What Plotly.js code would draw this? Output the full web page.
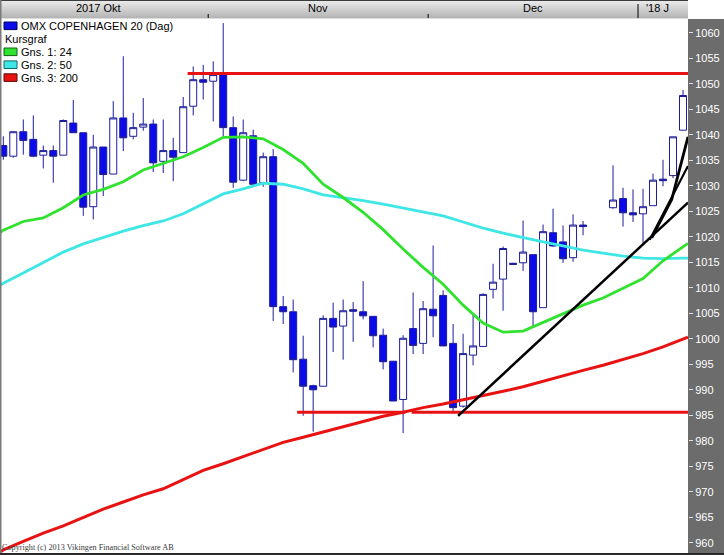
<!DOCTYPE html>
<html>
<head>
<meta charset="utf-8">
<script src="https://cdn.plot.ly/plotly-3.0.1.min.js"></script>
<style>html,body{margin:0;padding:0;background:#fff;overflow:hidden}#chart{width:724px;height:555px}</style>
</head>
<body>
<div id="chart"></div>
<script>
// ---- data (trading-day index; Christmas holidays 59,60 have no candle) ----
const dayIndex = [0,1,2,3,4,5,6,7,8,9,10,11,12,13,14,15,16,17,18,19,20,21,22,23,24,25,26,27,28,29,30,31,32,33,34,35,36,37,38,39,40,41,42,43,44,45,46,47,48,49,50,51,52,53,54,55,56,57,58,61,62,63,64,65,66,67,68];
const openP = [1037.9,1035.8,1040.6,1039.1,1036.0,1036.9,1036.0,1042.3,1040.4,1025.9,1037.6,1032.3,1043.3,1039.7,1041.5,1042.1,1034.8,1036.9,1036.5,1045.6,1050.8,1050.5,1051.8,1041.4,1031.1,1039.8,1030.6,1035.7,1006.3,1005.3,996.0,990.8,990.7,1004.0,1002.5,1005.7,1005.3,1004.4,1000.7,995.6,988.1,1002.0,999.1,1005.8,1008.5,999.1,986.8,996.8,998.5,1009.7,1011.7,1014.8,1014.9,1016.5,1006.1,1020.8,1019.0,1015.9,1022.3,1025.7,1027.5,1024.7,1024.5,1026.1,1031.3,1032.0,1040.9];
const highP = [1039.7,1040.7,1043.0,1043.8,1037.9,1037.9,1043.0,1046.8,1040.4,1040.0,1037.6,1046.6,1055.4,1044.3,1047.2,1043.0,1043.0,1039.4,1047.4,1053.4,1053.7,1054.4,1061.9,1043.6,1043.0,1041.0,1036.5,1037.2,1008.4,1007.7,1000.6,991.0,1004.6,1007.1,1007.7,1007.2,1011.3,1004.4,1002.0,995.6,1000.7,1009.1,1007.4,1018.3,1009.5,1002.9,1001.0,1005.0,1008.9,1014.7,1018.1,1014.9,1023.2,1016.5,1022.4,1025.5,1022.2,1024.4,1023.1,1034.0,1029.6,1029.3,1029.4,1032.4,1035.1,1039.6,1048.8];
const lowP = [1035.1,1035.5,1036.1,1035.6,1033.4,1030.6,1036.0,1040.4,1024.1,1023.4,1028.0,1032.3,1036.8,1039.1,1040.8,1032.7,1032.5,1030.9,1036.5,1043.8,1046.9,1042.6,1039.7,1029.6,1030.9,1030.1,1029.8,1003.5,1002.9,993.4,984.9,981.8,990.7,997.4,995.9,999.4,1003.8,998.3,994.0,987.8,981.5,997.0,997.0,1000.3,998.6,985.6,986.5,994.8,998.5,1007.9,1005.5,1014.5,1013.3,1002.3,1006.1,1018.0,1014.9,1015.1,1020.3,1025.5,1022.0,1022.9,1018.8,1026.1,1029.9,1031.5,1040.9];
const closeP = [1035.8,1040.6,1038.9,1035.8,1036.9,1035.8,1042.8,1040.4,1025.8,1037.6,1032.2,1043.3,1039.4,1041.4,1042.1,1034.5,1036.9,1035.6,1045.5,1050.8,1050.3,1051.8,1041.4,1030.7,1040.4,1030.3,1035.7,1006.3,1005.3,995.9,990.7,990.0,1004.0,1002.3,1005.5,1005.4,1004.5,1000.6,995.5,987.8,1000.1,998.7,1005.9,1004.5,998.6,986.5,997.1,998.6,1008.7,1011.1,1017.7,1014.6,1017.0,1005.3,1021.0,1018.2,1015.7,1022.3,1022.0,1027.2,1024.7,1024.3,1025.9,1031.1,1031.0,1039.6,1047.7];

// moving averages (edge, every 2nd day, edge)
const maIdx = [-0.33,0,2,4,6,8,10,12,14,16,18,20,22,24,26,28,30,32,34,36,38,40,42,44,46,48,50,52,54,56,58,60,62,64,66,68,68.5];
const ma24 = [1020.8,1021.3,1023.0,1023.7,1025.7,1028.2,1029.3,1030.8,1033.1,1034.4,1035.7,1037.5,1039.5,1039.6,1039.2,1037.1,1034.4,1030.3,1027.7,1024.8,1021.4,1017.6,1014.0,1010.7,1006.6,1003.1,1001.3,1001.5,1003.2,1005.0,1006.6,1008.0,1009.9,1011.8,1015.3,1018.0,1018.7];
const ma50 = [1010.5,1010.9,1012.9,1015.0,1017.0,1018.6,1019.9,1021.1,1022.2,1023.1,1024.5,1026.4,1028.4,1029.4,1030.5,1030.3,1029.4,1028.2,1027.7,1027.1,1026.4,1025.6,1024.8,1024.1,1022.9,1021.7,1020.7,1019.8,1019.0,1018.2,1017.4,1016.8,1016.2,1015.8,1015.7,1015.8,1015.8];
const ma200 = [958.2,958.6,960.3,961.9,963.3,965.0,966.6,968.0,969.4,970.6,972.4,974.2,975.5,976.9,978.3,979.7,980.7,981.7,982.7,983.8,984.8,985.6,986.5,987.2,988.0,988.8,989.7,990.6,991.7,992.7,993.8,994.8,995.9,997.1,998.4,999.9,1000.3];

// drawn horizontal levels and trend lines (day index, price)
const resistX = [18.44, 68.5], resistY = [1052.0, 1052.0];
const support1X = [29.4, 40.2], support2X = [40.85, 68.5], supportY = [985.6, 985.6];
const trendAX = [45.5, 68.5], trendAY = [984.9, 1026.7];
const trendBX = [64.67, 68.5], trendBY = [1019.4, 1033.9];
const trendCX = [64.87, 66.87, 68.5], trendCY = [1019.8, 1027.3, 1039.6];

const yTicks = [960,965,970,975,980,985,990,995,1000,1005,1010,1015,1020,1025,1030,1035,1040,1045,1050,1055,1060];
const monthLabels = ["2017 Okt","Nov","Dec","'18 J"];
const monthPos = [9.57, 31.5, 53, 65.4];
const monthBreaks = [20.5, 42.5, 63.5];
const legendNames = ["OMX COPENHAGEN 20 (Dag)","Kursgraf","Gns. 1: 24","Gns. 2: 50","Gns. 3: 200"];

// ---- geometry helpers (pixels -> paper) ----
const W = 724, H = 555, mL = 0, mR = 36, mT = 19, mB = 2;
const pw = W - mL - mR, ph = H - mT - mB;
const px = x => (x - mL) / pw;
const py = y => (H - mB - y) / ph;

const BLUE_LINE = '#1c1c9c', BLUE_FILL = '#0b0bea';
const GREEN = '#2ee22e', CYAN = '#3ee6e6', RED = '#e81212';

const traces = [
  {type:'candlestick', x:dayIndex, open:openP, high:highP, low:lowP, close:closeP,
   increasing:{line:{color:BLUE_LINE,width:1}, fillcolor:'#ffffff'},
   decreasing:{line:{color:BLUE_LINE,width:1}, fillcolor:BLUE_FILL},
   whiskerwidth:0, hoverinfo:'skip', name:legendNames[0]},
  {type:'scatter', mode:'lines', x:maIdx, y:ma50, line:{color:CYAN,width:2.8}, name:legendNames[3], hoverinfo:'skip'},
  {type:'scatter', mode:'lines', x:maIdx, y:ma24, line:{color:GREEN,width:2.8}, name:legendNames[2], hoverinfo:'skip'},
  {type:'scatter', mode:'lines', x:maIdx, y:ma200, line:{color:RED,width:3}, name:legendNames[4], hoverinfo:'skip'},
  {type:'scatter', mode:'lines', x:resistX, y:resistY, line:{color:RED,width:3}, hoverinfo:'skip'},
  {type:'scatter', mode:'lines', x:support1X, y:supportY, line:{color:RED,width:3}, hoverinfo:'skip'},
  {type:'scatter', mode:'lines', x:support2X, y:supportY, line:{color:RED,width:3}, hoverinfo:'skip'},
  {type:'scatter', mode:'lines', x:trendAX, y:trendAY, line:{color:'#000',width:2.5}, hoverinfo:'skip'},
  {type:'scatter', mode:'lines', x:trendBX, y:trendBY, line:{color:'#000',width:2.2}, hoverinfo:'skip'},
  {type:'scatter', mode:'lines', x:trendCX, y:trendCY, line:{color:'#000',width:2.8}, hoverinfo:'skip'}
];

const shapes = [];
// right value panel
shapes.push({type:'rect', xref:'paper', yref:'paper', x0:1, x1:px(W), y0:0, y1:1, fillcolor:'#6c6c6c', line:{width:0}, layer:'below'});
// header gradient
const bandTop = 1, bandBot = 18;
for (let r = 0; r < 19; r++) {
  let c;
  if (r < bandTop) c = [60,60,60];
  else if (r >= bandBot) c = [220,220,220];
  else { const t = (r - bandTop) / (bandBot - bandTop); const v = Math.round(232 - t * 54); c = [v,v,v]; }
  shapes.push({type:'rect', xref:'paper', yref:'paper', x0:0, x1:1, y0:py(r+1), y1:py(r), fillcolor:`rgb(${c})`, line:{width:0}, layer:'above'});
}
// month separators in header
monthBreaks.forEach((b,i) => {
  shapes.push({type:'line', xref:'x', yref:'paper', x0:b, x1:b, y0:py(18), y1:py(i===2?4:14), line:{color:'#000',width:1}, layer:'above'});
});
// frame lines
shapes.push({type:'rect', xref:'paper', yref:'paper', x0:0, x1:px(1.5), y0:0, y1:py(0), fillcolor:'#7a7a7a', line:{width:0}, layer:'above'});
shapes.push({type:'rect', xref:'paper', yref:'paper', x0:0, x1:px(W), y0:py(H), y1:0, fillcolor:'#2a2a2a', line:{width:0}, layer:'above'});

// legend swatches
const legendRowY = [25.8, 38.8, 51.8, 64.7, 77.6];
const swatch = [[BLUE_FILL,'#000060'], null, [GREEN,'#106010'], [CYAN,'#106868'], [RED,'#600808']];
swatch.forEach((s,i) => {
  if (!s) return;
  shapes.push({type:'rect', xref:'paper', yref:'paper', x0:px(4), x1:px(17), y0:py(legendRowY[i]+3.8), y1:py(legendRowY[i]-3.8), fillcolor:s[0], line:{color:s[1],width:1}, layer:'above'});
});

const annotations = [];
monthLabels.forEach((t,i) => {
  annotations.push({xref:'x', yref:'paper', x:monthPos[i], y:py(8), text:t, showarrow:false, xanchor:'center', yanchor:'middle',
    font:{family:'Liberation Sans, Arial, sans-serif', size:11, color:'#000'}});
});
legendNames.forEach((t,i) => {
  annotations.push({xref:'paper', yref:'paper', x:px(i===1?3:19), y:py(legendRowY[i]), text:t, showarrow:false, xanchor:'left', yanchor:'middle',
    font:{family:'Liberation Sans, Arial, sans-serif', size:11, color:'#000'}});
});
annotations.push({xref:'paper', yref:'paper', x:px(0), y:py(547), text:'Copyright (c) 2013 Vikingen Financial Software AB', showarrow:false, xanchor:'left', yanchor:'middle',
  font:{family:'Liberation Serif, Times New Roman, serif', size:8.2, color:'#3a3a3a'}});

const layout = {
  width:W, height:H,
  margin:{l:mL, r:mR, t:mT, b:mB, pad:0},
  paper_bgcolor:'#ffffff', plot_bgcolor:'#ffffff',
  showlegend:false, hovermode:false,
  boxgap:0.2, boxgroupgap:0.125,
  xaxis:{range:[-0.33,68.5], showticklabels:false, showgrid:false, zeroline:false, showline:false, ticks:'', rangeslider:{visible:false}, fixedrange:true},
  yaxis:{range:[958.0,1062.7], side:'right', tickvals:yTicks, ticks:'outside', ticklen:4, tickwidth:1, tickcolor:'#e0e0e0',
         tickfont:{family:'Liberation Sans, Arial, sans-serif', size:11, color:'#ffffff'}, showgrid:false, zeroline:false, showline:false, fixedrange:true},
  shapes:shapes, annotations:annotations
};

Plotly.newPlot('chart', traces, layout, {staticPlot:true, displayModeBar:false});
</script>
</body>
</html>
